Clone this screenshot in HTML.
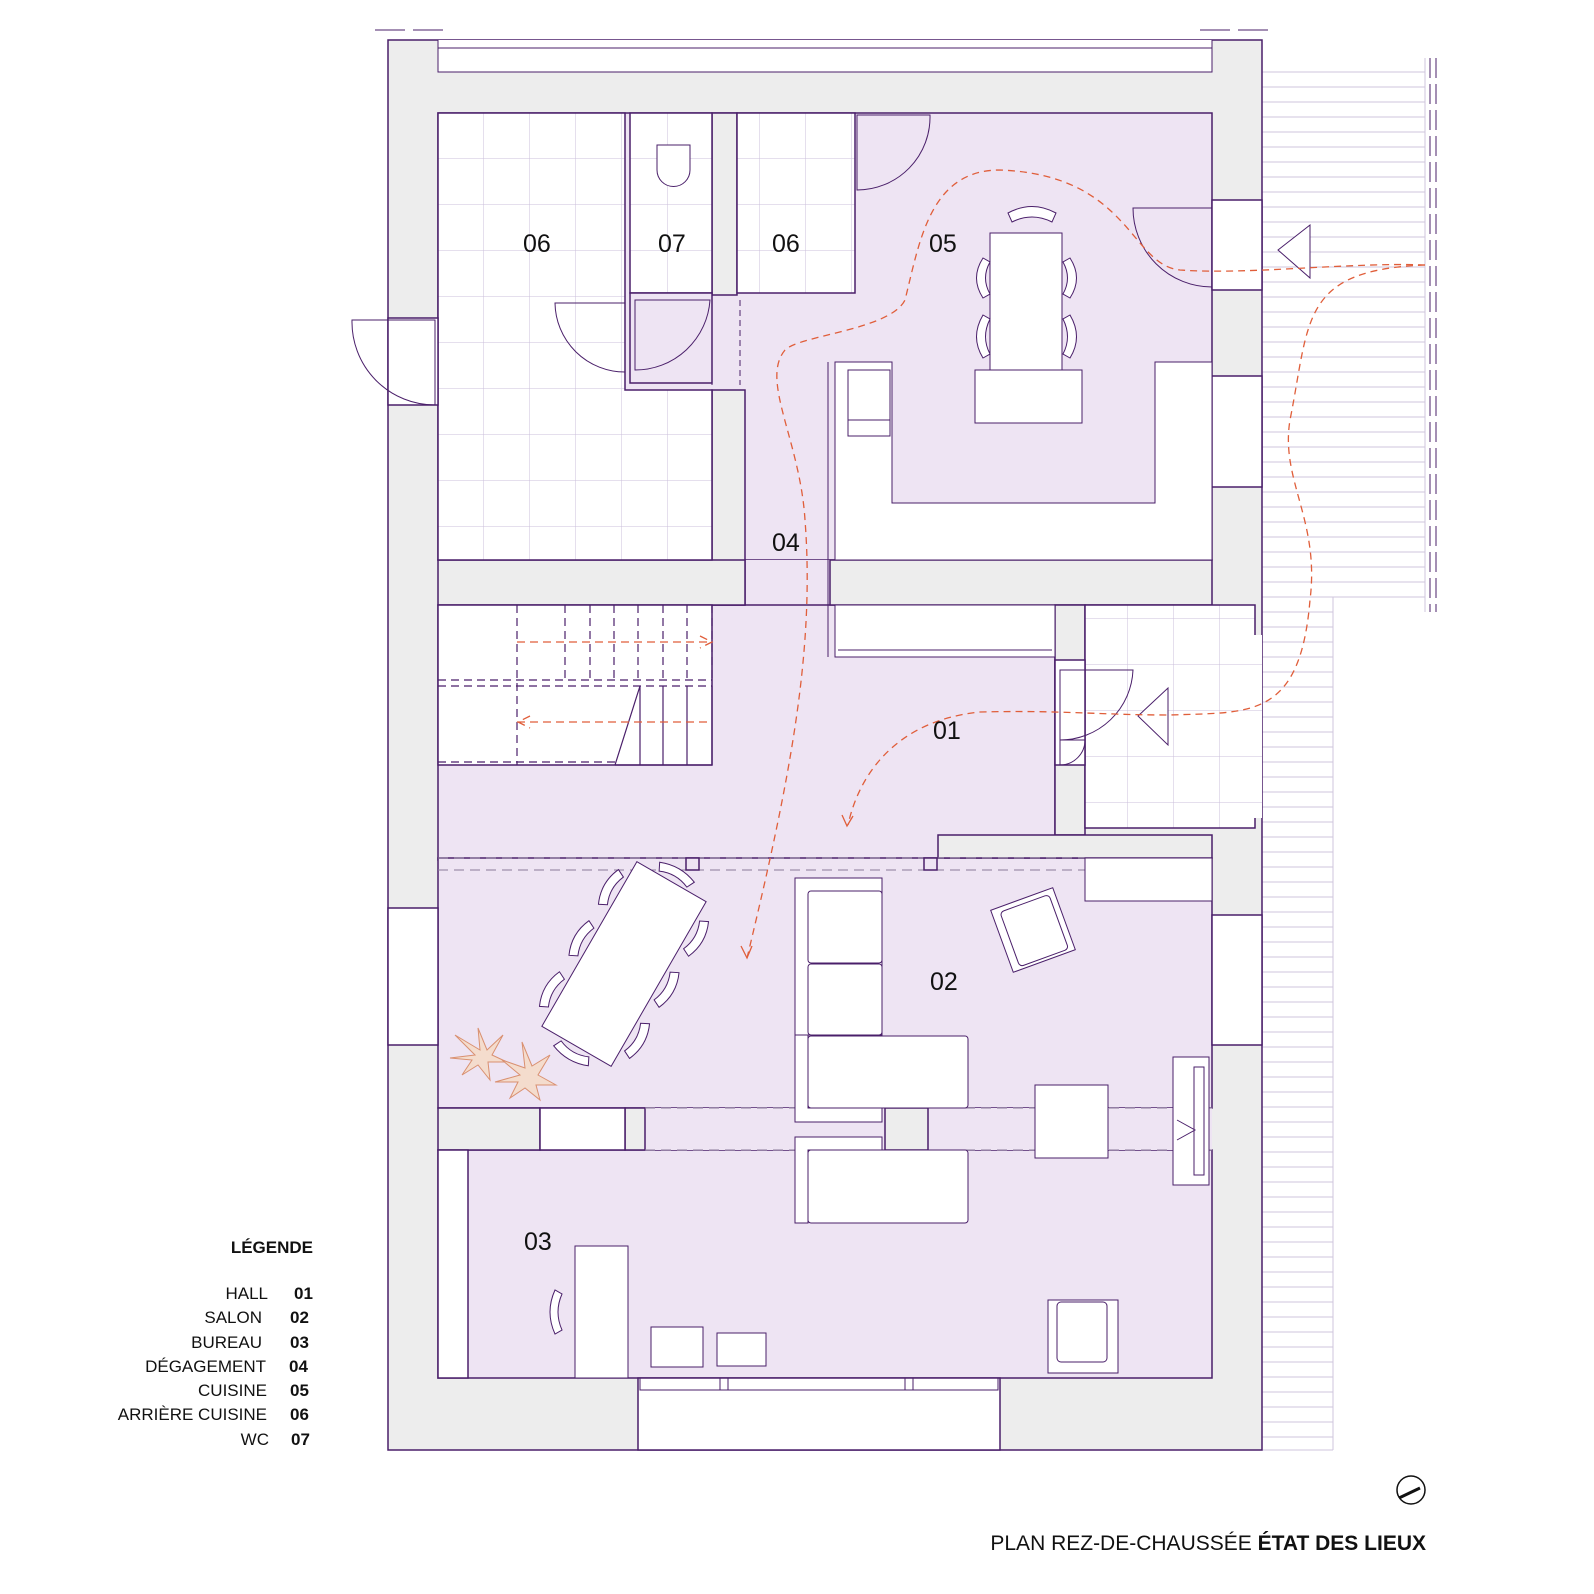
<!DOCTYPE html>
<html><head><meta charset="utf-8"><style>
html,body{margin:0;padding:0;background:#fff;}
svg{display:block;}
text{font-family:"Liberation Sans",sans-serif;}
</style></head><body>
<svg width="1594" height="1594" viewBox="0 0 1594 1594" xmlns="http://www.w3.org/2000/svg">
<defs>
<pattern id="grid" width="46" height="46" patternUnits="userSpaceOnUse" x="438" y="113">
<rect width="46" height="46" fill="#fff"/>
<path d="M46 0V46M0 46H46" stroke="#cbbfdb" stroke-width="1" fill="none"/>
</pattern>
</defs>
<g stroke="#4a1f6a" stroke-width="1.5">
<g stroke="#cfc6dc" stroke-width="1">
<path d="M1262 72H1425M1262 87H1425M1262 102H1425M1262 117H1425M1262 132H1425M1262 147H1425M1262 162H1425M1262 177H1425M1262 192H1425M1262 207H1425M1262 222H1425M1262 237H1425M1262 252H1425M1262 267H1425M1262 282H1425M1262 297H1425M1262 312H1425M1262 327H1425M1262 342H1425M1262 357H1425M1262 372H1425M1262 387H1425M1262 402H1425M1262 417H1425M1262 432H1425M1262 447H1425M1262 462H1425M1262 477H1425M1262 492H1425M1262 507H1425M1262 522H1425M1262 537H1425M1262 552H1425M1262 567H1425M1262 582H1425M1262 597H1425"/>
<path d="M1262 612H1333M1262 627H1333M1262 642H1333M1262 657H1333M1262 672H1333M1262 687H1333M1262 702H1333M1262 717H1333M1262 732H1333M1262 747H1333M1262 762H1333M1262 777H1333M1262 792H1333M1262 807H1333M1262 822H1333M1262 837H1333M1262 852H1333M1262 867H1333M1262 882H1333M1262 897H1333M1262 912H1333M1262 927H1333M1262 942H1333M1262 957H1333M1262 972H1333M1262 987H1333M1262 1002H1333M1262 1017H1333M1262 1032H1333M1262 1047H1333M1262 1062H1333M1262 1077H1333M1262 1092H1333M1262 1107H1333M1262 1122H1333M1262 1137H1333M1262 1152H1333M1262 1167H1333M1262 1182H1333M1262 1197H1333M1262 1212H1333M1262 1227H1333M1262 1242H1333M1262 1257H1333M1262 1272H1333M1262 1287H1333M1262 1302H1333M1262 1317H1333M1262 1332H1333M1262 1347H1333M1262 1362H1333M1262 1377H1333M1262 1392H1333M1262 1407H1333M1262 1422H1333M1262 1437H1333M1262 1450H1333"/>
<path d="M1333 597V1450M1425 58V612"/>
</g>
<path d="M1430 58V612M1436 58V612" stroke="#4a1f6a" stroke-width="1" stroke-dasharray="20 6"/>
<path d="M375 30H448M1200 30H1275" stroke-width="1" stroke-dasharray="30 8"/>
<rect x="388" y="40" width="874" height="1410" fill="#ededed"/>
<rect x="438" y="40" width="774" height="32" fill="#fff" stroke="none"/>
<path d="M438 40V72H1212V40M438 48H1212" fill="none" stroke-width="1"/>
<rect x="438" y="113" width="774" height="447" fill="#eee4f3"/>
<rect x="745" y="560" width="90" height="50" fill="#eee4f3" stroke="none"/>
<rect x="438" y="605" width="617" height="255" fill="#eee4f3"/>
<rect x="438" y="858" width="774" height="250" fill="#eee4f3"/>
<rect x="438" y="1150" width="774" height="228" fill="#eee4f3"/>
<rect x="645" y="1108" width="567" height="42" fill="#eee4f3" stroke="none"/>
<rect x="712" y="113" width="25" height="182" fill="#ededed"/>
<rect x="712" y="390" width="33" height="215" fill="#ededed"/>
<rect x="438" y="560" width="307" height="45" fill="#ededed"/>
<rect x="830" y="560" width="382" height="45" fill="#ededed"/>
<rect x="1055" y="605" width="30" height="230" fill="#ededed"/>
<rect x="938" y="835" width="274" height="23" fill="#ededed"/>
<rect x="438" y="1108" width="102" height="42" fill="#ededed"/>
<rect x="625" y="1108" width="20" height="42" fill="#ededed"/>
<rect x="885" y="1108" width="43" height="42" fill="#ededed"/>
<rect x="540" y="1108" width="85" height="42" fill="#fff"/>
<path d="M438 113H625V390H712V560H438Z" fill="url(#grid)"/>
<rect x="630" y="113" width="82" height="180" fill="url(#grid)"/>
<rect x="737" y="113" width="118" height="180" fill="url(#grid)"/>
<rect x="1085" y="605" width="170" height="223" fill="url(#grid)"/>
<rect x="630" y="293" width="82" height="90" fill="#eee4f3"/>
<rect x="388" y="318" width="50" height="87" fill="#fff"/>
<rect x="388" y="908" width="50" height="137" fill="#fff"/>
<rect x="1212" y="200" width="50" height="90" fill="#fff"/>
<rect x="1212" y="376" width="50" height="111" fill="#fff"/>
<rect x="1212" y="915" width="50" height="130" fill="#fff"/>
<rect x="1212" y="635" width="50" height="183" fill="url(#grid)" stroke="none"/>
<rect x="638" y="1378" width="362" height="72" fill="#fff"/>
<rect x="1055" y="660" width="30" height="105" fill="#fff"/>
<rect x="438" y="1150" width="30" height="228" fill="#fff"/>
<rect x="438" y="605" width="274" height="160" fill="#fff"/>
<g stroke-dasharray="8 5" stroke-width="1.2" fill="none">
<path d="M517 605V765M565 605V680M590 605V680M614 605V680M638 605V680M663 605V680M687 605V680M712 605V680M438 680H712M438 762H615M438 686H712"/>
</g>
<path d="M615 765L640 686M640 686V765M663 686V765M687 686V765M712 686V765M615 765H712" fill="none" stroke-width="1.2"/>
<path d="M517 642H710M700 636L712 642L700 648M517 722H710M530 716L518 722L530 728" stroke="#e05e3a" stroke-width="1.3" fill="none" stroke-dasharray="8 5"/>
<g fill="none" stroke-width="1">
<path d="M352 320H435V405A83 83 0 0 1 352 320Z"/>
<path d="M555 303H625V372A70 70 0 0 1 555 303Z"/>
<path d="M635 300H710A75 75 0 0 1 635 370Z"/>
<path d="M857 115H930A73 73 0 0 1 857 190Z"/>
<path d="M1133 208H1212V287A79 79 0 0 1 1133 208Z"/>
<path d="M1060 670H1133A73 73 0 0 1 1060 740Z"/>
<path d="M1060 740H1085A25 25 0 0 1 1060 765Z"/>
<path d="M712 300V385M740 300V385" stroke-dasharray="6 4"/>
<path d="M438 858H1212M438 870H1212M645 1108H1212M645 1150H1212" stroke="#8a7a9a" stroke-dasharray="10 6"/>
</g>
<rect x="686" y="858" width="13" height="12" fill="#eee4f3"/>
<rect x="924" y="858" width="13" height="12" fill="#eee4f3"/>
<path d="M657 145H690V170A16 16 0 0 1 657 170Z" fill="#fff" stroke-width="1"/>
<g fill="#fff" stroke-width="1">
<path d="M835 362H892V503H1155V362H1212V560H835Z"/>
<rect x="848" y="370" width="42" height="66"/>
<rect x="848" y="420" width="42" height="16"/>
<rect x="975" y="370" width="107" height="53"/>
<rect x="990" y="233" width="72" height="137"/>
<rect x="835" y="605" width="220" height="52"/>
<path d="M838 650H1052" />
<path d="M828 362V657" fill="none"/>
</g>
<g fill="#fff" stroke-width="1">
<path d="M1008 213Q1032 200 1056 213L1052 222Q1032 212 1012 222Z"/>
<path d="M983 258Q970 278 983 298L990 294Q981 278 990 262Z"/>
<path d="M983 315Q970 337 983 358L990 354Q981 337 990 319Z"/>
<path d="M1070 258Q1083 278 1070 298L1063 294Q1072 278 1063 262Z"/>
<path d="M1070 315Q1083 337 1070 358L1063 354Q1072 337 1063 319Z"/>
</g>
<g fill="#fff" stroke-width="1">
<path d="M795 878H882V1035H795Z M795 1035V1122H882V1108H808V1035Z"/>
<rect x="808" y="891" width="74" height="72" rx="3"/>
<rect x="808" y="964" width="74" height="71" rx="3"/>
<rect x="808" y="1036" width="160" height="72" rx="3"/>
<path d="M795 1137H882V1150H808V1223H795Z"/>
<rect x="808" y="1150" width="160" height="73" rx="3"/>
<rect x="1085" y="858" width="127" height="43"/>
<rect x="1035" y="1085" width="73" height="73"/>
<rect x="1173" y="1057" width="36" height="128"/>
<rect x="1194" y="1067" width="10" height="108"/>
<path d="M1177 1120L1195 1130L1177 1140" fill="none"/>
<g transform="rotate(-20 1033 930)"><rect x="1000" y="897" width="66" height="66"/><rect x="1008" y="902" width="52" height="58" rx="4"/></g>
<rect x="1048" y="1300" width="70" height="73"/>
<rect x="1057" y="1302" width="50" height="60" rx="4"/>
<g transform="rotate(30 624 964)">
<rect x="584" y="869" width="80" height="190"/>
<path d="M572 885Q563 905 572 925L580 921Q573 905 580 889Z"/>
<path d="M572 944Q563 964 572 984L580 980Q573 964 580 948Z"/>
<path d="M572 1003Q563 1023 572 1043L580 1039Q573 1023 580 1007Z"/>
<path d="M676 885Q685 905 676 925L668 921Q675 905 668 889Z"/>
<path d="M676 944Q685 964 676 984L668 980Q675 964 668 948Z"/>
<path d="M676 1003Q685 1023 676 1043L668 1039Q675 1023 668 1007Z"/>
<path d="M604 858Q624 850 644 858L640 866Q624 859 608 866Z"/>
<path d="M604 1070Q624 1078 644 1070L640 1062Q624 1069 608 1062Z"/>
</g>
<rect x="575" y="1246" width="53" height="132"/>
<rect x="651" y="1327" width="52" height="40"/>
<rect x="717" y="1333" width="49" height="33"/>
<path d="M555 1290Q545 1312 555 1334L562 1330Q554 1312 562 1294Z"/>
<path d="M640 1378V1390H998V1378M720 1378V1390M728 1378V1390M905 1378V1390M913 1378V1390" fill="none"/>
</g>
<g stroke="#d99070" stroke-width="1" fill="#f4dccd">
<path d="M475 1055L455 1035L480 1050L478 1028L487 1050L503 1035L492 1055L507 1062L488 1062L490 1080L478 1065L462 1075L472 1060L450 1058Z"/>
<path d="M520 1075L502 1060L525 1068L522 1042L532 1066L550 1055L538 1075L556 1085L536 1085L540 1100L525 1088L510 1098L518 1082L495 1082Z"/>
</g>
<path d="M1310 225L1310 278L1278 250Z M1168 688L1168 745L1138 716Z" fill="#fff" stroke-width="1"/>
<g fill="none" stroke="#e05e3a" stroke-width="1.3" stroke-dasharray="7 5">
<path d="M1425 265C1350 262 1250 275 1180 270C1130 265 1130 175 1000 170C930 170 920 240 905 300C890 330 800 335 785 350C760 380 800 440 805 520C815 650 790 780 747 958"/>
<path d="M1425 265C1300 270 1310 320 1290 420C1280 480 1320 520 1310 600C1300 720 1250 712 1170 715C1100 715 1060 710 980 712C900 720 860 770 848 825"/>
</g>
<path d="M741 946L747 958L752 946M842 815L847 826L853 816" fill="none" stroke="#e05e3a" stroke-width="1.3"/>
</g>
<g font-size="25" fill="#111">
<text x="523" y="252">06</text><text x="658" y="252">07</text><text x="772" y="252">06</text>
<text x="929" y="252">05</text><text x="772" y="551">04</text><text x="933" y="739">01</text>
<text x="930" y="990">02</text><text x="524" y="1250">03</text>
</g>
<g font-size="17" fill="#111" text-anchor="end">
<text x="313" y="1253" font-weight="bold">LÉGENDE</text>
<text x="268" y="1299">HALL</text><text x="262" y="1323">SALON</text><text x="262" y="1348">BUREAU</text>
<text x="266" y="1372">DÉGAGEMENT</text><text x="267" y="1396">CUISINE</text><text x="267" y="1420">ARRIÈRE CUISINE</text><text x="269" y="1445">WC</text>
</g>
<g font-size="17" fill="#111" font-weight="bold">
<text x="294" y="1299">01</text><text x="290" y="1323">02</text><text x="290" y="1348">03</text><text x="289" y="1372">04</text><text x="290" y="1396">05</text><text x="290" y="1420">06</text><text x="291" y="1445">07</text>
</g>
<text x="1426" y="1550" font-size="21" text-anchor="end" fill="#111">PLAN REZ-DE-CHAUSSÉE <tspan font-weight="bold">ÉTAT DES LIEUX</tspan></text>
<circle cx="1411" cy="1490" r="14" fill="none" stroke="#111" stroke-width="1.5"/>
<path d="M1399 1498L1420 1488" stroke="#111" stroke-width="3"/>
</svg>
</body></html>
